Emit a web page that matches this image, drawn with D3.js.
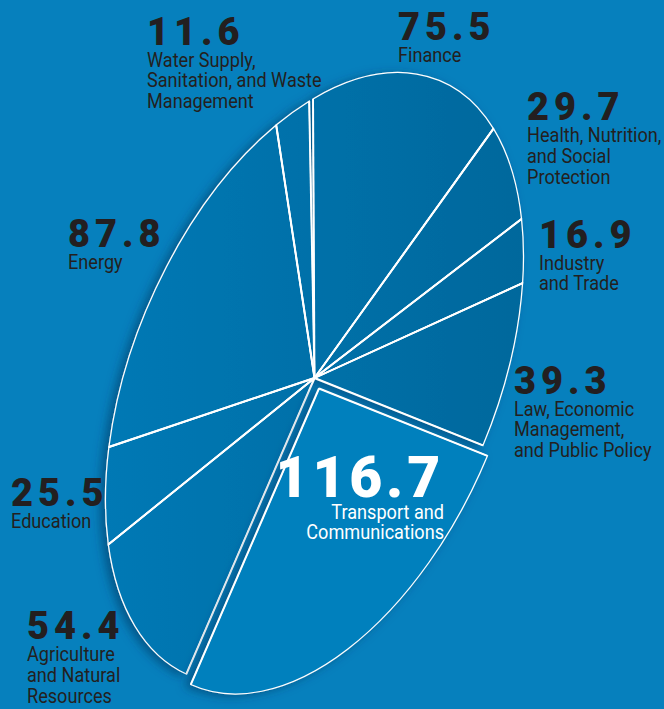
<!DOCTYPE html>
<html>
<head>
<meta charset="utf-8">
<script src="https://cdn.jsdelivr.net/npm/d3@7"></script>
<style>
  html, body { margin: 0; padding: 0; background: #0680bd; }
  svg { display: block; }
</style>
</head>
<body>
<svg id="chart" width="664" height="709"></svg>
<script>
// Sector totals, clockwise from the top of the pie
const sectors = [
  "Finance",
  "Health, Nutrition, and Social Protection",
  "Industry and Trade",
  "Law, Economic Management, and Public Policy",
  "Transport and Communications",
  "Agriculture and Natural Resources",
  "Education",
  "Energy",
  "Water Supply, Sanitation, and Waste Management"
];
const values = [75.5, 29.7, 16.9, 39.3, 116.7, 54.4, 25.5, 87.8, 11.6];
const valueLabels = ["75.5", "29.7", "16.9", "39.3", "116.7", "54.4", "25.5", "87.8", "11.6"];
const labelLines = [
  ["Finance"],
  ["Health, Nutrition,", "and Social", "Protection"],
  ["Industry", "and Trade"],
  ["Law, Economic", "Management,", "and Public Policy"],
  ["Transport and", "Communications"],
  ["Agriculture", "and Natural", "Resources"],
  ["Education"],
  ["Energy"],
  ["Water Supply,", "Sanitation, and Waste", "Management"]
];
const highlighted = "Transport and Communications";

// ---- layout ----
const W = 664, H = 709;
const cx = 314.5, cy = 378;          // hub of the pie
const rx = 322.6, ry = 181.4;        // tilted ellipse radii
const tilt = -67.1;                  // rotation of the long axis, degrees
const startDeg = 52.7, sweepDeg = 358.9;
const explode = [4.5, 10.5];         // pull-out of the highlighted slice
const squeeze = 0.93;                // horizontal condensing of the captions

// label anchors: x, baseline of the value, text-anchor
const labelAnchors = [
  { x: 398, y: 40,  anchor: "start" },
  { x: 527, y: 120, anchor: "start" },
  { x: 539, y: 247.5, anchor: "start" },
  { x: 514, y: 393.5, anchor: "start" },
  { x: 444, y: 497, anchor: "end" },
  { x: 27,  y: 639, anchor: "start" },
  { x: 11,  y: 506, anchor: "start" },
  { x: 68,  y: 246.5, anchor: "start" },
  { x: 147, y: 44.5, anchor: "start" }
];

const svg = d3.select("#chart").attr("viewBox", `0 0 ${W} ${H}`);
const defs = svg.append("defs");

svg.append("rect").attr("width", W).attr("height", H).attr("fill", "#0680bd");

// maps the unit circle onto the tilted ellipse
const M = new DOMMatrix().translate(cx, cy).rotate(tilt).scale(rx, ry);
const Mi = M.inverse();
const mStr = m => `matrix(${m.a},${m.b},${m.c},${m.d},${m.e},${m.f})`;

// horizontal shading across the pie, expressed in page coordinates
const grad = defs.append("linearGradient")
  .attr("id", "sliceShade")
  .attr("gradientUnits", "userSpaceOnUse")
  .attr("gradientTransform", mStr(Mi))
  .attr("x1", 105).attr("y1", 0).attr("x2", 525).attr("y2", 0);
grad.append("stop").attr("offset", 0).attr("stop-color", "#0679b5");
grad.append("stop").attr("offset", 0.45).attr("stop-color", "#0471aa");
grad.append("stop").attr("offset", 1).attr("stop-color", "#03689c");

const shadow = defs.append("filter").attr("id", "shadow")
  .attr("x", "-20%").attr("y", "-20%").attr("width", "140%").attr("height", "140%");
shadow.append("feDropShadow")
  .attr("dx", -5).attr("dy", 2).attr("stdDeviation", 5)
  .attr("flood-color", "#003760").attr("flood-opacity", 0.55);

const pie = d3.pie()
  .sort(null)
  .value(d => d.value)
  .startAngle(startDeg * Math.PI / 180)
  .endAngle((startDeg + sweepDeg) * Math.PI / 180);
const arcs = pie(sectors.map((s, i) => ({ sector: s, value: values[i], i })));
const arc = d3.arc().innerRadius(0).outerRadius(1);
const radial = d3.line();
const spoke = a => radial([[0, 0], [Math.sin(a), -Math.cos(a)]]);

function drawSlices(parent, data, fill) {
  const g = parent.append("g").attr("transform", mStr(M));
  g.selectAll("path.slice")
    .data(data)
    .join("path")
    .attr("class", "slice")
    .attr("d", arc)
    .attr("fill", fill)
    .attr("stroke", "#ffffff")
    .attr("stroke-width", 1.25)
    .attr("vector-effect", "non-scaling-stroke");
  // the straight edges read heavier than the rim
  g.selectAll("path.edge")
    .data(data.flatMap(d => [d.startAngle, d.endAngle]))
    .join("path")
    .attr("class", "edge")
    .attr("d", spoke)
    .attr("fill", "none")
    .attr("stroke", "#ffffff")
    .attr("stroke-width", 1.9)
    .attr("stroke-linecap", "butt")
    .attr("vector-effect", "non-scaling-stroke");
}

const restGroup = svg.append("g").attr("filter", "url(#shadow)");
drawSlices(restGroup, arcs.filter(d => d.data.sector !== highlighted), "url(#sliceShade)");

const outGroup = svg.append("g").attr("filter", "url(#shadow)")
  .append("g").attr("transform", `translate(${explode[0]},${explode[1]})`);
drawSlices(outGroup, arcs.filter(d => d.data.sector === highlighted), "#0680bd");

// ---- labels ----
const labelFont = "Roboto, 'Liberation Sans', sans-serif";
const labels = svg.append("g");
arcs.forEach(d => {
  const i = d.data.i;
  const a = labelAnchors[i];
  const hi = d.data.sector === highlighted;
  const col = hi ? "#ffffff" : "#231f20";
  const g = labels.append("g")
    .attr("text-anchor", a.anchor)
    .attr("transform", `translate(${a.x},${a.y})`);
  g.append("text")
    .attr("font-family", labelFont)
    .attr("font-weight", 900)
    .attr("font-size", hi ? 57 : 38)
    .attr("letter-spacing", hi ? 3.8 : 5)
    .attr("fill", col)
    .text(valueLabels[i]);
  labelLines[i].forEach((ln, k) => {
    g.append("text")
      .attr("transform", `translate(0,${(hi ? 21.5 : 22) + k * 20.8}) scale(${squeeze},1)`)
      .attr("font-family", labelFont)
      .attr("font-size", 19.5)
      .attr("fill", col)
      .text(ln);
  });
});
</script>
</body>
</html>
